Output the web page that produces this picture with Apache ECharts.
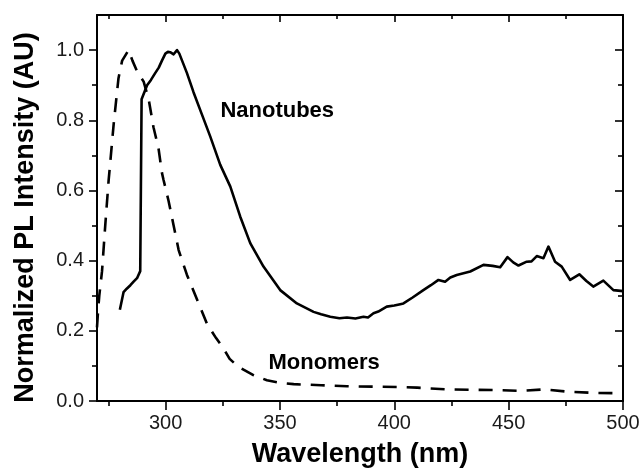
<!DOCTYPE html>
<html>
<head>
<meta charset="utf-8">
<script src="https://cdn.jsdelivr.net/npm/echarts@6/dist/echarts.min.js"></script>
<style>html,body{margin:0;padding:0;background:#fff}#c{width:642px;height:468px}</style>
</head>
<body>
<div id="c"></div>
<script>
// ---- data ----
const nanoWl = [280, 281.6, 283, 284.6, 286, 287.5, 288.9, 289.5, 291.9, 293.6, 295.5, 297, 298.4, 299.9, 301, 302, 303.5, 305, 306, 307.2, 309.3, 312.2, 315.9, 319.5, 323.9, 328.3, 332.6, 337, 342.8, 350.1, 357.4, 364.7, 368, 372, 376, 379.3, 383, 386.5, 388.5, 390.9, 393, 396.7, 400, 402.6, 404, 408, 412.7, 416, 419.3, 422.2, 424.5, 427.3, 433.2, 439, 443, 446.3, 449.5, 452, 454.3, 457.9, 460, 462.3, 465.2, 467.4, 470.3, 473.2, 476.9, 480.9, 484, 487, 491.4, 495.8, 500];
const nanoVal = [0.26, 0.31, 0.32, 0.33, 0.34, 0.35, 0.37, 0.86, 0.90, 0.915, 0.935, 0.95, 0.97, 0.99, 0.995, 0.994, 0.988, 1.0, 0.99, 0.97, 0.935, 0.88, 0.816, 0.754, 0.673, 0.611, 0.526, 0.45, 0.383, 0.316, 0.278, 0.254, 0.247, 0.24, 0.236, 0.238, 0.235, 0.24, 0.238, 0.25, 0.255, 0.269, 0.272, 0.276, 0.278, 0.295, 0.316, 0.33, 0.345, 0.34, 0.352, 0.359, 0.369, 0.388, 0.385, 0.381, 0.41, 0.395, 0.386, 0.397, 0.398, 0.413, 0.407, 0.44, 0.397, 0.383, 0.345, 0.361, 0.342, 0.326, 0.343, 0.316, 0.313];

const monoWl = [270, 270.5, 271, 272.2, 273.6, 275.1, 275.8, 277.3, 279.4, 281, 283.8, 285.5, 287.5, 290.4, 292.6, 294.7, 296.9, 298.4, 299.1, 301.3, 303.5, 305.7, 309.3, 313.7, 318.1, 322, 325.3, 328, 331.9, 338, 344.3, 350, 356, 368, 379.3, 401.1, 410, 423, 444.8, 455, 465.2, 476.9, 488.5, 500];
const monoVal = [0.21, 0.26, 0.30, 0.37, 0.50, 0.63, 0.68, 0.79, 0.92, 0.97, 1.0, 0.97, 0.94, 0.91, 0.86, 0.78, 0.72, 0.65, 0.63, 0.57, 0.50, 0.43, 0.36, 0.29, 0.22, 0.18, 0.15, 0.12, 0.097, 0.075, 0.059, 0.052, 0.048, 0.045, 0.042, 0.04, 0.038, 0.033, 0.031, 0.029, 0.033, 0.026, 0.023, 0.022];

const xMajorTicks = [300, 350, 400, 450, 500];
const xMinorTicks = [275, 325, 375, 425, 475];
const yMajorTicks = [0, 0.2, 0.4, 0.6, 0.8, 1.0];
const yMinorTicks = [0.1, 0.3, 0.5, 0.7, 0.9];

const nanoLabel = {text: 'Nanotubes', x: 348.8, y: 0.828};
const monoLabel = {text: 'Monomers', x: 369.3, y: 0.108};

// ---- chart ----
const FONT = 'Liberation Sans, Arial, Helvetica, sans-serif';
const X_MIN = 270, X_MAX = 500, Y_MIN = 0, Y_MAX = 1.1;
const black = '#000';

function xAx(pos, ticks, len, inside, showLine, labels) {
  return {
    type: 'value', position: pos, min: X_MIN, max: X_MAX,
    axisLine: {show: showLine, onZero: false, lineStyle: {color: black, width: 2}},
    axisTick: {show: true, inside: inside, length: len, customValues: ticks, lineStyle: {color: black, width: 1.6}},
    axisLabel: labels ? {show: true, customValues: ticks, fontSize: 20, fontFamily: FONT, color: '#1a1a1a', margin: 12} : {show: false},
    splitLine: {show: false}
  };
}
function yAx(pos, ticks, len, inside, showLine, labels) {
  return {
    type: 'value', position: pos, min: Y_MIN, max: Y_MAX,
    axisLine: {show: showLine, onZero: false, lineStyle: {color: black, width: 2}},
    axisTick: {show: true, inside: inside, length: len, customValues: ticks, lineStyle: {color: black, width: 1.6}},
    axisLabel: labels ? {show: true, customValues: ticks, fontSize: 20, fontFamily: FONT, color: '#1a1a1a', margin: 13,
      formatter: v => Number(v).toFixed(1)} : {show: false},
    splitLine: {show: false}
  };
}

const xAxes = [
  Object.assign(xAx('bottom', xMajorTicks, 9, false, true, true), {
    name: 'Wavelength (nm)', nameLocation: 'middle', nameGap: 40,
    nameTextStyle: {fontSize: 27, fontWeight: 'bold', fontFamily: FONT, color: black}
  }),
  xAx('bottom', xMinorTicks, 5, false, false, false),
  xAx('top', xMajorTicks, 7, true, true, false),
  xAx('top', xMinorTicks, 4, true, false, false)
];
const yAxes = [
  Object.assign(yAx('left', yMajorTicks, 8, false, true, true), {
    name: 'Normalized PL Intensity (AU)', nameLocation: 'middle', nameGap: 58,
    nameTextStyle: {fontSize: 27, fontWeight: 'bold', fontFamily: FONT, color: black, padding: [0, 19, 0, 0]}
  }),
  yAx('left', yMinorTicks, 5, false, false, false),
  yAx('right', yMajorTicks, 8, true, true, false),
  yAx('right', yMinorTicks, 5, true, false, false)
];

function pairs(xs, ys) { return xs.map((x, i) => [x, ys[i]]); }
function labelPoint(l) {
  return {
    symbol: 'circle', symbolSize: 0, silent: true,
    label: {show: true, position: 'inside', fontSize: 22, fontWeight: 'bold', fontFamily: FONT, color: black},
    data: [{coord: [l.x, l.y], value: l.text, label: {formatter: l.text}}]
  };
}

const chart = echarts.init(document.getElementById('c'), null, {renderer: 'canvas'});
chart.setOption({
  animation: false,
  backgroundColor: '#fff',
  grid: {left: 97, right: 19, top: 15, bottom: 67, containLabel: false, outerBoundsMode: 'none'},
  xAxis: xAxes,
  yAxis: yAxes,
  series: [
    {
      type: 'line', name: 'Nanotubes', xAxisIndex: 0, yAxisIndex: 0,
      data: pairs(nanoWl, nanoVal), showSymbol: false, clip: true,
      lineStyle: {color: black, width: 2.6, type: 'solid', join: 'round'},
      markPoint: labelPoint(nanoLabel)
    },
    {
      type: 'line', name: 'Monomers', xAxisIndex: 0, yAxisIndex: 0,
      data: pairs(monoWl, monoVal), showSymbol: false, clip: true,
      lineStyle: {color: black, width: 2.6, type: [14, 10]},
      markPoint: labelPoint(monoLabel)
    }
  ]
});
</script>
</body>
</html>
